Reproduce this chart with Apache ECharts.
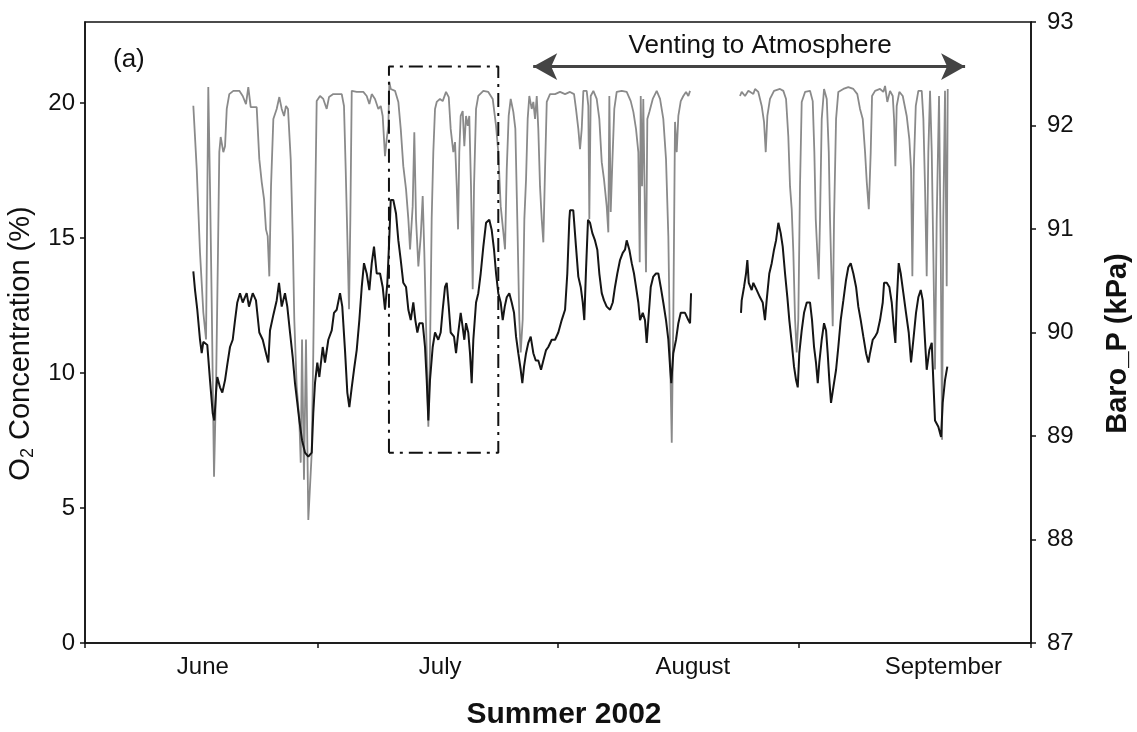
<!DOCTYPE html>
<html>
<head>
<meta charset="utf-8">
<script src="https://cdn.jsdelivr.net/npm/echarts@6/dist/echarts.min.js"></script>
<style>html,body{margin:0;padding:0;background:#fff;}#c{width:1137px;height:732px;}</style>
</head>
<body>
<div id="c"></div>
<script>
// x positions are days since June 1, 2002
var monthNames = ['June', 'July', 'August', 'September'];
var monthLabelDays = [15.2, 45.8, 78.4, 110.7];
var monthTickDays = [0, 30, 61, 92, 122];
var o2Ticks = [0, 5, 10, 15, 20];
var baroTicks = [87, 88, 89, 90, 91, 92, 93];

var o2Days = [
13.97,14.41,14.83,15.26,15.61,15.90,16.12,16.34,16.64,16.90,
17.15,17.32,17.50,17.84,18.06,18.28,18.61,19.13,19.90,20.34,
20.76,21.06,21.37,22.14,22.48,22.79,23.09,23.34,23.56,23.77,
23.99,24.29,24.72,25.06,25.37,25.67,25.92,26.18,26.53,26.79,
26.99,27.30,27.64,27.82,27.99,28.24,28.50,28.80,29.24,29.44,
29.66,29.88,30.31,30.73,31.17,31.47,32.02,33.11,33.40,33.62,
33.83,34.05,34.22,34.40,35.04,35.89,36.33,36.67,36.98,37.40,
37.83,38.14,38.39,38.69,38.91,39.12,39.25,39.43,39.98,40.41,
40.72,41.05,41.40,41.70,41.92,42.26,42.47,42.69,42.99,43.30,
43.55,43.76,44.07,44.28,44.49,44.71,44.92,45.14,45.36,45.78,
46.13,46.56,46.91,47.16,47.50,47.72,47.94,48.11,48.27,48.45,
48.71,48.92,49.14,49.36,49.56,49.78,50.00,50.17,50.43,50.72,
51.37,52.01,52.58,53.01,53.30,53.61,53.87,54.17,54.39,54.64,
54.90,55.24,55.50,55.75,56.01,56.19,56.45,56.66,56.88,57.09,
57.30,57.61,57.82,58.04,58.26,58.46,58.68,58.90,59.11,59.33,
59.55,59.97,60.62,61.26,61.91,62.55,63.07,63.32,63.62,63.84,
64.06,64.27,64.70,64.91,65.04,65.22,65.56,65.99,66.33,66.64,
66.93,67.28,67.49,67.62,67.80,68.01,68.26,68.57,69.22,69.86,
70.38,70.72,71.06,71.36,71.54,71.67,71.84,72.00,72.22,72.35,
72.52,72.78,73.22,73.73,74.16,74.58,74.93,75.23,75.45,75.67,
75.87,76.09,76.31,76.52,76.83,77.16,77.51,77.81,78.03,
81.0,
84.47,84.69,85.12,85.55,86.19,86.41,86.83,87.27,87.57,87.79,
88.00,88.34,88.86,89.63,90.06,90.41,90.70,90.92,91.14,91.35,
91.57,91.78,91.99,92.21,92.43,92.86,93.50,93.85,94.06,94.24,
94.44,94.62,94.79,95.01,95.31,95.66,95.92,96.08,96.30,96.43,
96.60,96.86,97.15,97.80,98.44,99.09,99.60,99.95,100.30,100.60,
100.82,101.08,101.33,101.50,101.89,102.53,102.96,103.18,103.47,103.82,
104.17,104.34,104.51,104.68,105.02,105.46,105.97,106.31,106.53,106.70,
106.88,107.14,107.47,107.91,108.12,108.33,108.55,108.76,108.98,109.20,
109.40,109.62,109.84,110.14,110.36,110.53,110.69,110.91,111.13,111.26
];
var o2Values = [
19.90,17.55,14.47,12.24,11.24,20.59,16.92,12.62,6.16,9.50,
14.47,18.18,18.74,18.18,18.40,19.78,20.33,20.45,20.45,20.26,
19.96,20.59,19.85,19.85,17.92,17.07,16.44,15.32,15.07,13.58,
16.92,19.41,19.78,20.22,19.78,19.52,19.89,19.78,17.92,15.07,
11.99,9.50,8.27,6.68,11.24,6.05,11.24,4.56,7.05,10.76,
15.70,20.07,20.26,20.15,19.78,20.22,20.33,20.33,19.89,17.55,
15.07,12.36,15.70,20.45,20.41,20.41,20.26,19.96,20.33,20.15,
19.78,19.89,19.52,18.03,18.66,19.15,20.78,20.52,20.45,20.04,
19.04,17.66,16.81,15.70,14.58,16.18,18.92,15.70,13.95,15.07,
16.55,14.47,10.76,8.01,10.76,15.70,18.18,19.78,20.04,20.15,
20.07,20.41,20.22,19.04,18.18,18.55,16.92,15.32,18.18,19.52,
19.70,18.40,19.52,19.15,19.52,16.92,13.10,16.92,19.78,20.26,
20.45,20.41,20.15,19.15,18.18,16.18,15.44,14.58,17.55,19.52,
20.15,19.67,19.04,15.70,11.99,10.76,11.99,15.70,17.18,19.41,
20.26,19.78,20.04,19.41,20.26,19.04,16.92,15.70,14.84,17.55,
20.04,20.33,20.33,20.41,20.33,20.41,20.33,19.78,19.04,18.29,
19.04,20.45,20.45,19.89,15.70,20.26,20.45,20.15,19.41,17.81,
17.18,16.18,15.21,20.26,15.96,17.81,19.78,20.41,20.45,20.41,
20.07,19.67,19.04,18.18,14.10,20.26,16.92,20.15,15.70,13.73,
19.41,19.67,20.15,20.45,20.15,19.41,17.92,15.07,10.76,7.42,
11.99,19.30,18.18,19.52,20.07,20.26,20.41,20.26,20.45,
null,
20.26,20.41,20.26,20.45,20.33,20.52,20.41,19.89,19.30,18.18,
19.52,20.15,20.45,20.52,20.45,20.15,18.78,16.92,16.07,14.47,
11.99,10.76,11.99,16.92,20.04,20.41,20.45,20.07,18.18,15.70,
14.47,13.47,15.70,19.41,20.52,20.15,18.18,15.70,13.21,11.73,
15.70,19.41,20.41,20.52,20.59,20.52,20.33,19.78,19.41,18.18,
17.07,16.07,18.18,20.26,20.45,20.52,20.41,20.63,20.04,20.45,
20.26,19.41,17.66,19.89,20.41,20.26,19.52,18.66,17.55,13.58,
17.55,19.89,20.45,20.45,19.41,16.92,13.58,18.18,20.45,18.18,
14.47,10.13,15.70,20.26,14.47,7.53,15.70,20.45,13.21,20.52
];

var baroDays = [
13.97,14.19,14.48,14.83,15.05,15.26,15.77,16.12,16.47,16.68,
16.90,17.06,17.41,17.71,18.06,18.35,18.70,19.05,19.35,19.64,
19.99,20.34,20.85,21.15,21.63,22.05,22.48,22.92,23.34,23.64,
23.86,24.29,24.72,25.02,25.37,25.79,26.09,26.44,26.79,27.08,
27.38,27.64,27.99,28.37,28.80,29.24,29.44,29.66,29.96,30.22,
30.66,30.95,31.38,31.82,32.11,32.46,32.89,33.18,33.53,33.83,
34.09,34.40,34.69,35.04,35.38,35.69,35.98,36.33,36.67,36.98,
37.27,37.62,38.05,38.39,38.69,38.99,39.25,39.43,39.76,40.11,
40.41,40.72,41.05,41.40,41.70,42.01,42.34,42.60,42.86,43.12,
43.55,43.85,44.07,44.28,44.49,44.84,45.14,45.56,45.87,46.13,
46.43,46.65,46.91,47.16,47.59,47.85,48.14,48.45,48.71,48.92,
49.14,49.43,49.65,49.87,50.08,50.43,50.72,51.03,51.37,51.72,
52.14,52.45,52.75,53.01,53.30,53.61,53.87,54.13,54.39,54.72,
55.03,55.33,55.59,55.88,56.19,56.40,56.62,56.88,57.17,57.48,
57.82,58.13,58.46,58.81,59.11,59.46,59.75,60.19,60.62,61.04,
61.48,61.91,62.20,62.46,62.55,62.97,63.32,63.62,63.93,64.19,
64.39,64.61,64.87,65.13,65.43,65.77,66.07,66.33,66.64,66.93,
67.28,67.71,68.06,68.35,68.65,69.00,69.35,69.64,69.86,70.20,
70.51,70.80,71.06,71.36,71.58,71.93,72.22,72.44,72.65,72.96,
73.29,73.64,73.94,74.25,74.58,74.93,75.23,75.45,75.61,75.87,
76.22,76.52,76.83,77.38,77.81,78.03,78.16,
81.0,
84.60,84.69,84.99,85.25,85.42,85.60,85.98,86.19,86.63,87.05,
87.40,87.69,87.91,88.25,88.56,88.86,89.12,89.42,89.72,89.98,
90.28,90.58,90.83,91.14,91.44,91.70,91.92,92.12,92.43,92.73,
93.08,93.50,93.76,94.02,94.27,94.50,94.70,95.01,95.31,95.57,
95.78,95.99,96.21,96.51,96.86,97.15,97.46,97.80,98.15,98.44,
98.75,99.09,99.44,99.73,100.04,100.38,100.73,101.03,101.24,101.59,
101.89,102.18,102.53,102.88,103.05,103.40,103.73,104.04,104.34,104.51,
104.68,104.94,105.20,105.54,105.88,106.23,106.53,106.83,107.17,107.47,
107.78,108.04,108.30,108.55,108.89,109.20,109.40,109.62,110.05,110.40,
110.61,110.91,111.21
];
var baroValues = [
90.59,90.41,90.22,89.93,89.80,89.91,89.88,89.54,89.22,89.15,
89.42,89.57,89.47,89.42,89.54,89.69,89.86,89.93,90.12,90.29,
90.38,90.29,90.38,90.25,90.38,90.31,90.00,89.93,89.80,89.71,
90.02,90.17,90.31,90.48,90.25,90.38,90.25,90.00,89.76,89.51,
89.32,89.15,88.96,88.84,88.80,88.84,89.22,89.51,89.71,89.57,
89.86,89.71,89.93,90.02,90.19,90.22,90.38,90.25,89.83,89.42,
89.28,89.47,89.64,89.83,90.12,90.44,90.67,90.57,90.41,90.67,
90.83,90.57,90.57,90.44,90.22,90.48,90.92,91.28,91.28,91.15,
90.89,90.70,90.48,90.44,90.22,90.12,90.29,90.12,90.00,90.09,
90.09,89.86,89.54,89.15,89.54,89.86,90.00,89.93,90.00,90.22,
90.44,90.48,90.25,90.00,89.96,89.80,90.00,90.19,90.05,89.93,
90.09,90.00,89.80,89.51,89.93,90.29,90.38,90.57,90.83,91.06,
91.09,90.99,90.80,90.57,90.38,90.29,90.12,90.25,90.34,90.38,
90.29,90.19,89.96,89.80,89.64,89.51,89.67,89.80,89.90,89.96,
89.80,89.73,89.73,89.64,89.73,89.83,89.86,89.93,89.93,90.00,
90.12,90.22,90.57,91.09,91.18,91.18,90.83,90.54,90.44,90.29,
90.12,90.60,91.09,91.06,90.96,90.89,90.80,90.57,90.38,90.31,
90.25,90.22,90.29,90.44,90.57,90.70,90.77,90.80,90.89,90.80,
90.67,90.57,90.44,90.29,90.12,90.19,90.12,89.90,90.12,90.44,
90.54,90.57,90.57,90.44,90.29,90.12,89.93,89.67,89.51,89.80,
89.93,90.09,90.19,90.19,90.12,90.09,90.38,
null,
90.19,90.31,90.44,90.57,90.70,90.48,90.41,90.48,90.41,90.34,
90.29,90.12,90.31,90.57,90.67,90.80,90.89,91.06,90.96,90.83,
90.57,90.34,90.12,89.90,89.67,89.54,89.47,89.80,90.02,90.19,
90.29,90.29,90.12,89.86,89.71,89.51,89.71,89.93,90.09,90.02,
89.80,89.54,89.32,89.47,89.64,89.86,90.12,90.31,90.51,90.63,
90.67,90.57,90.44,90.25,90.12,89.96,89.80,89.71,89.80,89.93,
89.96,90.00,90.12,90.29,90.48,90.48,90.44,90.29,90.02,89.90,
90.29,90.67,90.57,90.38,90.19,90.00,89.71,89.93,90.19,90.34,
90.41,90.31,89.96,89.64,89.83,89.90,89.54,89.15,89.09,88.99,
89.32,89.54,89.67
];

// dash-dot highlight box (days / O2 %)
var boxDays = [39.2, 53.3];
var boxO2 = [7.05, 21.35];
// venting arrow (days / O2 %)
var ventDays = [57.8, 113.5];
var ventLevel = 21.35;

var o2Data = o2Days.map(function (d, i) { return [d, o2Values[i]]; });
var baroData = baroDays.map(function (d, i) { return [d, baroValues[i]]; });
var boxData = [[boxDays[0], boxO2[0]], [boxDays[0], boxO2[1]], [boxDays[1], boxO2[1]], [boxDays[1], boxO2[0]], [boxDays[0], boxO2[0]]];

var FONT = '"Liberation Sans", Arial, sans-serif';
var chart = echarts.init(document.getElementById('c'), null, { renderer: 'canvas' });
chart.setOption({
  animation: false,
  backgroundColor: '#fff',
  grid: { left: 85, right: 106, top: 22, bottom: 89, containLabel: false, outerBoundsMode: 'none', show: true, borderColor: '#111', borderWidth: 1.5, backgroundColor: 'transparent' },
  xAxis: {
    type: 'value', min: 0, max: 122,
    name: 'Summer 2002', nameLocation: 'middle', nameGap: 57,
    nameTextStyle: { fontFamily: FONT, fontSize: 30, fontWeight: 'bold', color: '#111', padding: [0, 0, 0, 12] },
    axisLine: { show: true, lineStyle: { color: '#111', width: 1.5 } },
    axisTick: { show: true, length: 5, lineStyle: { color: '#111', width: 1.5 }, customValues: monthTickDays },
    axisLabel: {
      customValues: monthLabelDays, margin: 12,
      fontFamily: FONT, fontSize: 24, color: '#111',
      formatter: function (v) { var i = monthLabelDays.indexOf(v); return i >= 0 ? monthNames[i] : ''; }
    },
    splitLine: { show: false }
  },
  yAxis: [
    {
      type: 'value', min: 0, max: 23, interval: 5, position: 'left',
      name: 'O{sub|2} Concentration (%)', nameLocation: 'middle', nameGap: 44, nameRotate: 90,
      nameTextStyle: { fontFamily: FONT, fontSize: 29, color: '#111', padding: [0, 22, 0, 0], rich: { sub: { fontFamily: FONT, fontSize: 18, color: '#111', verticalAlign: 'bottom', padding: [14, 0, 0, 0] } } },
      axisLine: { show: true, lineStyle: { color: '#111', width: 1.5 } },
      axisTick: { show: true, length: 5, lineStyle: { color: '#111', width: 1.5 }, customValues: o2Ticks },
      axisLabel: { customValues: o2Ticks, margin: 10, fontFamily: FONT, fontSize: 24, color: '#111' },
      splitLine: { show: false }
    },
    {
      type: 'value', min: 87, max: 93, interval: 1, position: 'right',
      name: 'Baro_P (kPa)', nameLocation: 'middle', nameGap: 72, nameRotate: 90,
      nameTextStyle: { fontFamily: FONT, fontSize: 29, fontWeight: 'bold', color: '#111', padding: [0, 22, 0, 0] },
      axisLine: { show: true, lineStyle: { color: '#111', width: 1.5 } },
      axisTick: { show: true, length: 5, lineStyle: { color: '#111', width: 1.5 }, customValues: baroTicks },
      axisLabel: { customValues: baroTicks, margin: 16, fontFamily: FONT, fontSize: 24, color: '#111' },
      splitLine: { show: false }
    }
  ],
  graphic: [
    { type: 'text', left: 113, top: 47, style: { text: '(a)', fontFamily: FONT, fontSize: 26, fill: '#111' } }
  ],
  series: [
    {
      name: 'O2', type: 'line', yAxisIndex: 0, data: o2Data, showSymbol: false, connectNulls: false,
      lineStyle: { color: '#8a8a8a', width: 1.8 }, z: 2
    },
    {
      name: 'Baro', type: 'line', yAxisIndex: 1, data: baroData, showSymbol: false, connectNulls: false,
      lineStyle: { color: '#151515', width: 2 }, z: 3
    },
    {
      name: 'box', type: 'line', yAxisIndex: 0, data: boxData, showSymbol: false,
      lineStyle: { color: '#111', width: 2, type: [14, 6, 3, 6] }, z: 4,
      markLine: {
        silent: true, symbol: ['arrow', 'arrow'], symbolSize: [20, 24],
        lineStyle: { color: '#444', width: 3, type: 'solid' },
        label: { show: true, position: 'insideMiddleTop', distance: 8, padding: [0, 0, 0, 22], formatter: 'Venting to Atmosphere', fontFamily: FONT, fontSize: 26, color: '#111' },
        data: [[{ coord: [ventDays[0], ventLevel] }, { coord: [ventDays[1], ventLevel] }]]
      }
    }
  ]
});
</script>
</body>
</html>
